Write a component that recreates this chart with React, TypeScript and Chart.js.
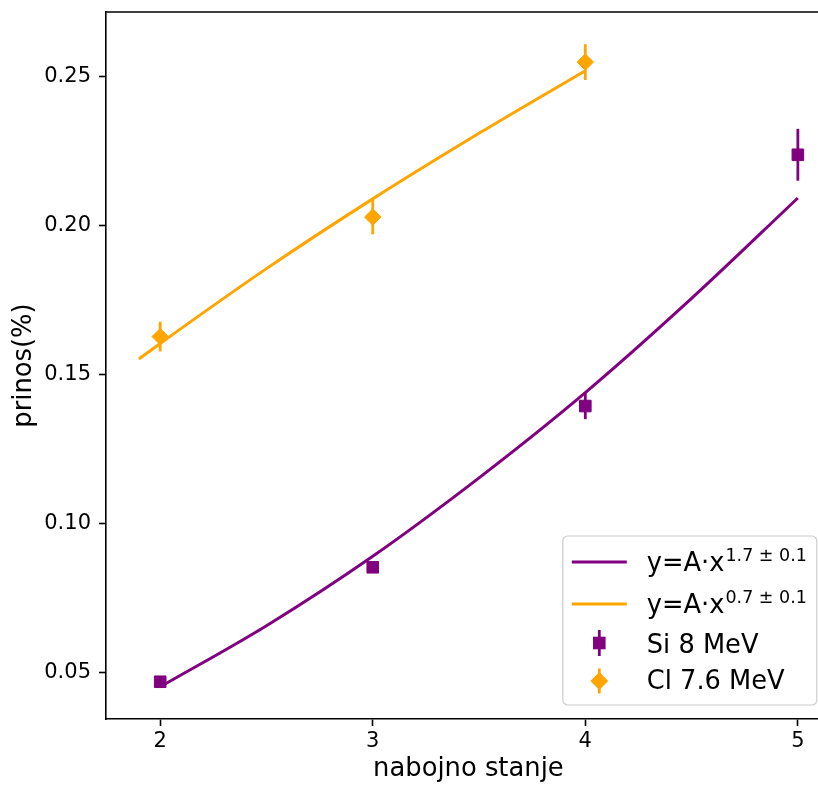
import React, { useEffect, useRef } from 'react';
import { Chart, registerables } from 'chart.js';

Chart.register(...registerables);

// ---- data ----
const siStates = [2, 3, 4, 5];
const siValues = [0.047, 0.0854, 0.1395, 0.2238];
const siErrors = [0.0015, 0.0018, 0.0044, 0.0087];

const clStates = [2, 3, 4];
const clValues = [0.1628, 0.2029, 0.2549];
const clErrors = [0.005, 0.0058, 0.006];

const siFitX = [2, 2.5, 3, 3.5, 4, 4.5, 5];
const siFitY = [0.0453, 0.0658, 0.0891, 0.1154, 0.144, 0.1756, 0.2093];
const clFitX = [1.9, 2, 2.5, 3, 3.5, 4];
const clFitY = [0.1553, 0.1605, 0.1856, 0.209, 0.231, 0.252];

const xTicks = [2, 3, 4, 5];
const yTicks = [0.05, 0.1, 0.15, 0.2, 0.25];

const siLabel = 'Si 8 MeV';
const clLabel = 'Cl 7.6 MeV';
const fitBase = 'y=A·x';
const siFitExp = '1.7 ± 0.1';
const clFitExp = '0.7 ± 0.1';
const xTitle = 'nabojno stanje';
const yTitle = 'prinos(%)';

const PURPLE = '#800080';
const ORANGE = '#ffa500';
const FONT = "'DejaVu Sans', sans-serif";

const errorBarPlugin = {
  id: 'errorBars',
  beforeDatasetDraw(chart: any, args: any) {
    const ds = chart.data.datasets[args.index];
    if (!ds.errorBars) return;
    const { ctx, scales } = chart;
    ctx.save();
    ctx.strokeStyle = ds.borderColor;
    ctx.lineWidth = 2.8;
    ds.data.forEach((p: any, i: number) => {
      const e = ds.errorBars[i];
      const x = scales.x.getPixelForValue(p.x);
      const y1 = scales.y.getPixelForValue(p.y - e);
      const y2 = scales.y.getPixelForValue(p.y + e);
      ctx.beginPath();
      ctx.moveTo(x, y1);
      ctx.lineTo(x, y2);
      ctx.stroke();
    });
    ctx.restore();
  },
};

const framePlugin = {
  id: 'frame',
  afterDatasetsDraw(chart: any) {
    const { ctx, chartArea } = chart;
    ctx.save();
    ctx.strokeStyle = '#000';
    ctx.lineWidth = 1.6;
    ctx.beginPath();
    ctx.moveTo(chartArea.left, chartArea.top);
    ctx.lineTo(chartArea.right, chartArea.top);
    ctx.lineTo(chartArea.right, chartArea.bottom);
    ctx.stroke();
    ctx.restore();
  },
};

function drawRect(ctx: CanvasRenderingContext2D, x: number, y: number, half: number, color: string) {
  ctx.fillStyle = color;
  ctx.fillRect(x - half, y - half, half * 2, half * 2);
}
function drawDiamond(ctx: CanvasRenderingContext2D, x: number, y: number, r: number, color: string) {
  ctx.fillStyle = color;
  ctx.beginPath();
  ctx.moveTo(x, y - r);
  ctx.lineTo(x + r, y);
  ctx.lineTo(x, y + r);
  ctx.lineTo(x - r, y);
  ctx.closePath();
  ctx.fill();
}

const legendPlugin = {
  id: 'mplLegend',
  afterDraw(chart: any) {
    const { ctx, chartArea } = chart;
    const right = chartArea.right - 14;
    const bottom = chartArea.bottom - 14;
    const w = 254;
    const h = 169;
    const left = right - w;
    const top = bottom - h;
    ctx.save();
    ctx.beginPath();
    if ((ctx as any).roundRect) (ctx as any).roundRect(left, top, w, h, 5);
    else ctx.rect(left, top, w, h);
    ctx.fillStyle = 'rgba(255,255,255,0.8)';
    ctx.fill();
    ctx.strokeStyle = '#cccccc';
    ctx.lineWidth = 1.2;
    ctx.stroke();

    const lx1 = left + 9;
    const lx2 = left + 64;
    const tx = left + 84;
    const mx = left + 36.5;
    const mainFont = `25.7px ${FONT}`;
    const supFont = `17.5px ${FONT}`;
    ctx.textAlign = 'left';
    ctx.textBaseline = 'alphabetic';

    const fitRows = [
      { color: PURPLE, exp: siFitExp, ly: top + 26, base: top + 35, sup: top + 25 },
      { color: ORANGE, exp: clFitExp, ly: top + 68, base: top + 77, sup: top + 67 },
    ];
    fitRows.forEach((r) => {
      ctx.strokeStyle = r.color;
      ctx.lineWidth = 3;
      ctx.beginPath();
      ctx.moveTo(lx1, r.ly);
      ctx.lineTo(lx2, r.ly);
      ctx.stroke();
      ctx.fillStyle = '#000';
      ctx.font = mainFont;
      ctx.fillText(fitBase, tx, r.base);
      const bw = ctx.measureText(fitBase).width;
      ctx.font = supFont;
      ctx.fillText(r.exp, tx + bw + 1, r.sup);
    });

    // Si entry
    const y3 = top + 107;
    ctx.strokeStyle = PURPLE;
    ctx.lineWidth = 2.8;
    ctx.beginPath();
    ctx.moveTo(mx, y3 - 13);
    ctx.lineTo(mx, y3 + 13);
    ctx.stroke();
    drawRect(ctx, mx, y3, 6.3, PURPLE);
    ctx.fillStyle = '#000';
    ctx.font = mainFont;
    ctx.fillText(siLabel, tx, top + 117);

    // Cl entry
    const y4 = top + 145;
    ctx.strokeStyle = ORANGE;
    ctx.beginPath();
    ctx.moveTo(mx, y4 - 12.5);
    ctx.lineTo(mx, y4 + 12.5);
    ctx.stroke();
    drawDiamond(ctx, mx, y4, 8.9, ORANGE);
    ctx.fillStyle = '#000';
    ctx.font = mainFont;
    ctx.fillText(clLabel, tx, top + 153);
    ctx.restore();
  },
};

export default function App() {
  const canvasRef = useRef<HTMLCanvasElement | null>(null);

  useEffect(() => {
    document.body.style.margin = '0';
    const canvas = canvasRef.current;
    if (!canvas) return;
    const toPts = (xs: number[], ys: number[]) => xs.map((x, i) => ({ x, y: ys[i] }));

    const chart = new Chart(canvas, {
      type: 'line',
      data: {
        datasets: [
          {
            label: 'fitSi',
            data: toPts(siFitX, siFitY),
            borderColor: PURPLE,
            borderWidth: 3,
            pointRadius: 0,
            fill: false,
            cubicInterpolationMode: 'monotone',
            order: 3,
          },
          {
            label: 'fitCl',
            data: toPts(clFitX, clFitY),
            borderColor: ORANGE,
            borderWidth: 3,
            pointRadius: 0,
            fill: false,
            cubicInterpolationMode: 'monotone',
            order: 2,
          },
          {
            label: siLabel,
            data: toPts(siStates, siValues),
            errorBars: siErrors,
            showLine: false,
            borderColor: PURPLE,
            backgroundColor: PURPLE,
            pointStyle: 'rect',
            pointRadius: 8.2,
            pointBorderWidth: 1,
            order: 1,
          } as any,
          {
            label: clLabel,
            data: toPts(clStates, clValues),
            errorBars: clErrors,
            showLine: false,
            borderColor: ORANGE,
            backgroundColor: ORANGE,
            pointStyle: 'rectRot',
            pointRadius: 8.2,
            pointBorderWidth: 1,
            order: 0,
          } as any,
        ],
      },
      options: {
        responsive: false,
        animation: false,
        devicePixelRatio: 1,
        layout: { padding: { top: 12, left: 0, right: 9, bottom: 0 } },
        plugins: {
          legend: { display: false },
          tooltip: { enabled: false },
        },
        scales: {
          x: {
            type: 'linear',
            min: 1.745,
            max: 5.155,
            afterFit: (s: any) => {
              s.height = 66;
              s.paddingLeft = 0;
              s.paddingRight = 0;
            },
            afterBuildTicks: (s: any) => {
              s.ticks = xTicks.map((v) => ({ value: v }));
            },
            ticks: {
              color: '#000',
              font: { family: FONT, size: 21 },
              padding: 3,
              maxRotation: 0,
              callback: (v: any) => String(v),
            },
            grid: {
              display: true,
              drawOnChartArea: false,
              drawTicks: true,
              tickLength: 7,
              tickWidth: 1.6,
              tickColor: '#000',
            },
            border: { display: true, color: '#000', width: 1.6 },
            title: {
              display: true,
              text: xTitle,
              color: '#000',
              font: { family: FONT, size: 25.8, lineHeight: 1.2 },
              padding: { top: 0, bottom: 0 },
            },
          },
          y: {
            type: 'linear',
            min: 0.0345,
            max: 0.2717,
            afterFit: (s: any) => {
              s.width = 106;
              s.paddingTop = 0;
              s.paddingBottom = 0;
            },
            afterBuildTicks: (s: any) => {
              s.ticks = yTicks.map((v) => ({ value: v }));
            },
            ticks: {
              color: '#000',
              font: { family: FONT, size: 21 },
              padding: 8,
              callback: (v: any) => Number(v).toFixed(2),
            },
            grid: {
              display: true,
              drawOnChartArea: false,
              drawTicks: true,
              tickLength: 7,
              tickWidth: 1.6,
              tickColor: '#000',
            },
            border: { display: true, color: '#000', width: 1.6 },
            title: {
              display: true,
              text: yTitle,
              color: '#000',
              font: { family: FONT, size: 25.8, lineHeight: 1.2 },
              padding: { top: 9, bottom: 0 },
            },
          },
        },
      } as any,
      plugins: [errorBarPlugin, framePlugin, legendPlugin],
    });
    return () => chart.destroy();
  }, []);

  return (
    <div style={{ width: 818, height: 785, overflow: 'hidden', position: 'relative', background: '#fff' }}>
      <canvas ref={canvasRef} width={840} height={785} style={{ display: 'block' }} />
    </div>
  );
}
